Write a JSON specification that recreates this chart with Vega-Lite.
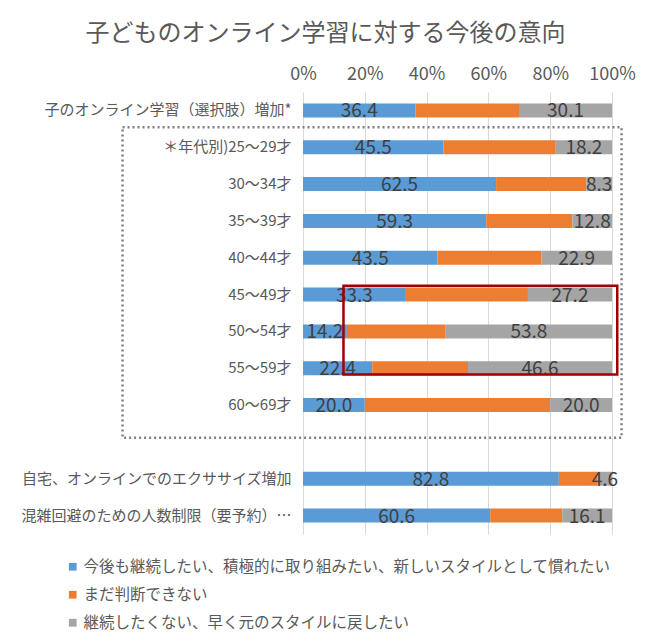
{
  "$schema": "https://vega.github.io/schema/vega-lite/v6.json",
  "autosize": "none",
  "width": 309,
  "height": 442,
  "padding": {"left": 303, "top": 92, "right": 38, "bottom": 107},
  "config": {"font": "Noto Sans CJK JP", "view": {"stroke": null}},
  "title": {"text": "子どものオンライン学習に対する今後の意向", "fontSize": 24, "fontWeight": "normal", "color": "#595959", "anchor": "middle", "frame": "group", "dx": -132, "offset": 19},
  "datasets": {
    "main": [
      {"cat": "子のオンライン学習（選択肢）増加*", "series": "今後も継続したい、積極的に取り組みたい、新しいスタイルとして慣れたい", "order": 1, "value": 36.4},
      {"cat": "子のオンライン学習（選択肢）増加*", "series": "まだ判断できない", "order": 2, "value": 33.5},
      {"cat": "子のオンライン学習（選択肢）増加*", "series": "継続したくない、早く元のスタイルに戻したい", "order": 3, "value": 30.1},
      {"cat": "＊年代別)25～29才", "series": "今後も継続したい、積極的に取り組みたい、新しいスタイルとして慣れたい", "order": 1, "value": 45.5},
      {"cat": "＊年代別)25～29才", "series": "まだ判断できない", "order": 2, "value": 36.3},
      {"cat": "＊年代別)25～29才", "series": "継続したくない、早く元のスタイルに戻したい", "order": 3, "value": 18.2},
      {"cat": "30～34才", "series": "今後も継続したい、積極的に取り組みたい、新しいスタイルとして慣れたい", "order": 1, "value": 62.5},
      {"cat": "30～34才", "series": "まだ判断できない", "order": 2, "value": 29.2},
      {"cat": "30～34才", "series": "継続したくない、早く元のスタイルに戻したい", "order": 3, "value": 8.3},
      {"cat": "35～39才", "series": "今後も継続したい、積極的に取り組みたい、新しいスタイルとして慣れたい", "order": 1, "value": 59.3},
      {"cat": "35～39才", "series": "まだ判断できない", "order": 2, "value": 27.9},
      {"cat": "35～39才", "series": "継続したくない、早く元のスタイルに戻したい", "order": 3, "value": 12.8},
      {"cat": "40～44才", "series": "今後も継続したい、積極的に取り組みたい、新しいスタイルとして慣れたい", "order": 1, "value": 43.5},
      {"cat": "40～44才", "series": "まだ判断できない", "order": 2, "value": 33.6},
      {"cat": "40～44才", "series": "継続したくない、早く元のスタイルに戻したい", "order": 3, "value": 22.9},
      {"cat": "45～49才", "series": "今後も継続したい、積極的に取り組みたい、新しいスタイルとして慣れたい", "order": 1, "value": 33.3},
      {"cat": "45～49才", "series": "まだ判断できない", "order": 2, "value": 39.5},
      {"cat": "45～49才", "series": "継続したくない、早く元のスタイルに戻したい", "order": 3, "value": 27.2},
      {"cat": "50～54才", "series": "今後も継続したい、積極的に取り組みたい、新しいスタイルとして慣れたい", "order": 1, "value": 14.2},
      {"cat": "50～54才", "series": "まだ判断できない", "order": 2, "value": 32.0},
      {"cat": "50～54才", "series": "継続したくない、早く元のスタイルに戻したい", "order": 3, "value": 53.8},
      {"cat": "55～59才", "series": "今後も継続したい、積極的に取り組みたい、新しいスタイルとして慣れたい", "order": 1, "value": 22.4},
      {"cat": "55～59才", "series": "まだ判断できない", "order": 2, "value": 31.0},
      {"cat": "55～59才", "series": "継続したくない、早く元のスタイルに戻したい", "order": 3, "value": 46.6},
      {"cat": "60～69才", "series": "今後も継続したい、積極的に取り組みたい、新しいスタイルとして慣れたい", "order": 1, "value": 20.0},
      {"cat": "60～69才", "series": "まだ判断できない", "order": 2, "value": 60.0},
      {"cat": "60～69才", "series": "継続したくない、早く元のスタイルに戻したい", "order": 3, "value": 20.0},
      {"cat": "自宅、オンラインでのエクササイズ増加", "series": "今後も継続したい、積極的に取り組みたい、新しいスタイルとして慣れたい", "order": 1, "value": 82.8},
      {"cat": "自宅、オンラインでのエクササイズ増加", "series": "まだ判断できない", "order": 2, "value": 12.6},
      {"cat": "自宅、オンラインでのエクササイズ増加", "series": "継続したくない、早く元のスタイルに戻したい", "order": 3, "value": 4.6},
      {"cat": "混雑回避のための人数制限（要予約）…", "series": "今後も継続したい、積極的に取り組みたい、新しいスタイルとして慣れたい", "order": 1, "value": 60.6},
      {"cat": "混雑回避のための人数制限（要予約）…", "series": "まだ判断できない", "order": 2, "value": 23.3},
      {"cat": "混雑回避のための人数制限（要予約）…", "series": "継続したくない、早く元のスタイルに戻したい", "order": 3, "value": 16.1}
    ]
  },
  "layer": [
    {
      "layer": [
        {
          "data": {"name": "main"},
          "mark": {"type": "bar"},
          "encoding": {
            "y": {"field": "cat", "type": "nominal", "sort": null,
              "scale": {"domain": ["子のオンライン学習（選択肢）増加*", "＊年代別)25～29才", "30～34才", "35～39才", "40～44才", "45～49才", "50～54才", "55～59才", "60～69才", " ", "自宅、オンラインでのエクササイズ増加", "混雑回避のための人数制限（要予約）…"], "paddingInner": 0.62, "paddingOuter": 0.31},
              "axis": {"title": null, "ticks": false, "domain": false, "labelPadding": 12, "labelFontSize": 15, "labelColor": "#595959", "labelLimit": 0}},
            "x": {"field": "value", "type": "quantitative", "stack": "zero",
              "scale": {"domain": [0, 100], "nice": false},
              "axis": {"orient": "top", "title": null, "values": [0, 20, 40, 60, 80, 100], "labelExpr": "datum.value + '%'", "labelFlush": false, "labelOverlap": false, "grid": true, "gridColor": "#D9D9D9", "gridWidth": 1, "domain": false, "ticks": false, "labelPadding": 9, "labelFontSize": 18, "labelColor": "#595959"}},
            "order": {"field": "order", "type": "quantitative"},
            "color": {"field": "series", "type": "nominal",
              "scale": {"domain": ["今後も継続したい、積極的に取り組みたい、新しいスタイルとして慣れたい", "まだ判断できない", "継続したくない、早く元のスタイルに戻したい"], "range": ["#5B9BD5", "#ED7D31", "#A5A5A5"]},
              "legend": {"title": null, "orient": "none", "direction": "vertical", "legendX": -238, "legendY": 467, "symbolType": "square", "symbolSize": 60, "symbolStrokeWidth": 0, "labelFontSize": 15.5, "labelColor": "#595959", "labelOffset": 3, "rowPadding": 11, "labelLimit": 0}}
          }
        },
        {
          "data": {"name": "main"},
          "transform": [
            {"stack": "value", "groupby": ["cat"], "sort": [{"field": "order"}], "as": ["v0", "v1"]},
            {"calculate": "(datum.v0 + datum.v1) / 2", "as": "mid"},
            {"filter": "datum.order !== 2"}
          ],
          "mark": {"type": "text", "fontSize": 19, "color": "#404040", "align": "center", "baseline": "middle", "dy": 1},
          "encoding": {
            "y": {"field": "cat", "type": "nominal", "sort": null},
            "x": {"field": "mid", "type": "quantitative"},
            "text": {"field": "value", "type": "quantitative", "format": ".1f"}
          }
        }
      ]
    },
    {
      "layer": [
        {
          "data": {"values": [{"x0": -58.4, "x1": 103.1, "y0": 0.96, "y1": 9.39}]},
          "mark": {"type": "rect", "fill": null, "stroke": "#7F7F7F", "strokeWidth": 2.5, "strokeDash": [2, 3]},
          "encoding": {
            "x": {"field": "x0", "type": "quantitative"},
            "x2": {"field": "x1"},
            "y": {"field": "y0", "type": "quantitative", "scale": {"domain": [0, 12], "reverse": true, "nice": false, "zero": false}, "axis": null},
            "y2": {"field": "y1"}
          }
        },
        {
          "data": {"values": [{"x0": 13.1, "x1": 101.7, "y0": 5.26, "y1": 7.67}]},
          "mark": {"type": "rect", "fill": null, "stroke": "#A00000", "strokeWidth": 2.5},
          "encoding": {
            "x": {"field": "x0", "type": "quantitative"},
            "x2": {"field": "x1"},
            "y": {"field": "y0", "type": "quantitative"},
            "y2": {"field": "y1"}
          }
        }
      ]
    }
  ],
  "resolve": {"scale": {"y": "independent"}, "axis": {"y": "independent"}}
}
